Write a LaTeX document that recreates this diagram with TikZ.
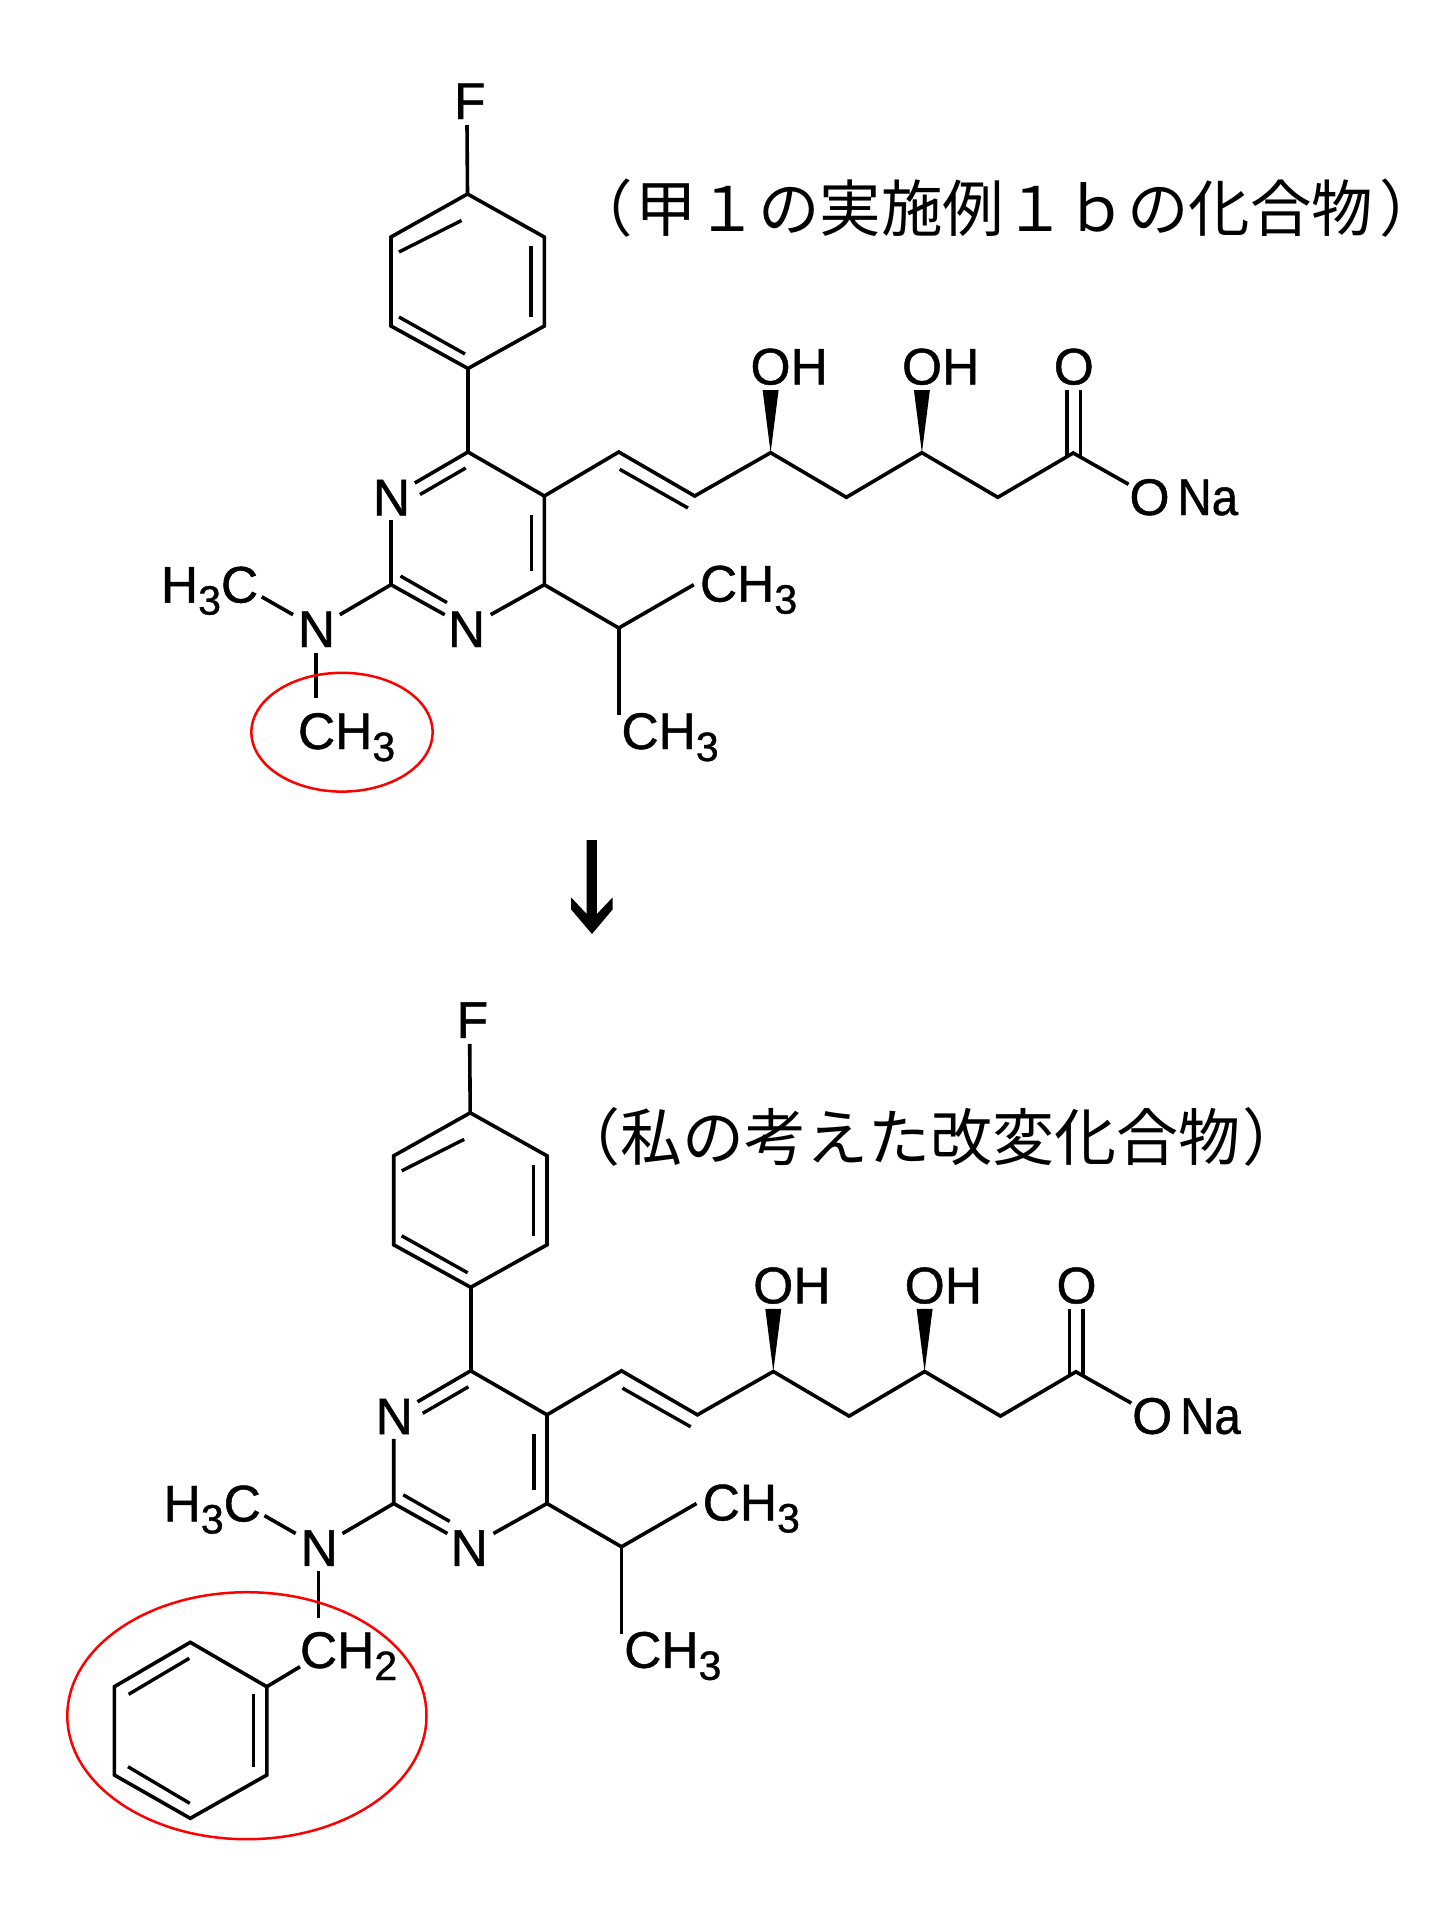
\documentclass[tikz,border=0pt]{standalone}
\usepackage{fontspec}
\setmainfont[FakeBold=0.9]{Liberation Sans}
\newfontfamily\jpfont{Noto Sans CJK JP}
\newcommand{\subnum}[1]{\raisebox{-12pt}{\fontsize{41}{41}\selectfont #1}}
\tikzset{
  bond/.style={draw=black,line width=3.6pt,line cap=butt,line join=miter},
  thinbond/.style={draw=black,line width=3.4pt,line cap=butt},
  lab/.style={anchor=base west,inner sep=0pt,outer sep=0pt,text=black,font=\fontsize{51.5}{60}\selectfont},
  title/.style={anchor=base,inner sep=0pt,text=black,font=\jpfont\fontsize{61.5}{70}\selectfont},
  redring/.style={draw=red,line width=2.5pt},
}
% #1 = prefix of the names
\newcommand{\drugcore}[1]{
  % fluorophenyl
  \coordinate (#1pa) at (467.5,194);
  \coordinate (#1pb) at (391,237);
  \coordinate (#1pc) at (391,326);
  \coordinate (#1pd) at (468,368.5);
  \coordinate (#1pe) at (544.3,326);
  \coordinate (#1pf) at (544.3,237);
  \coordinate (#1Fe) at (467,125);
  \node[lab] (#1F) at (454,119) {F};
  \draw[bond] (#1pa)--(#1pb)--(#1pc)--(#1pd)--(#1pe)--(#1pf)--cycle;
  \draw[bond] (#1Fe)--(#1pa);
  \coordinate (#1i1a) at (399,252);\coordinate (#1i1b) at (461.5,220.5);
  \coordinate (#1i2a) at (399,317);\coordinate (#1i2b) at (465,354);
  \coordinate (#1i3a) at (531,246);\coordinate (#1i3b) at (531,317);
  \draw[thinbond] (#1i1a)--(#1i1b);
  \draw[thinbond] (#1i2a)--(#1i2b);
  \draw[thinbond] (#1i3a)--(#1i3b);
  % pyrimidine
  \coordinate (#1r4) at (468,452);
  \coordinate (#1r5) at (544.3,496);
  \coordinate (#1r6) at (544.3,584.7);
  \coordinate (#1r2) at (391,584.7);
  \coordinate (#1n3u) at (414.8,483);
  \coordinate (#1n3v) at (420,494.5);
  \coordinate (#1i4) at (465.7,468);
  \coordinate (#1n3d) at (391,520);
  \coordinate (#1n1l) at (444.7,614.7);
  \coordinate (#1n1k) at (447,602.6);
  \coordinate (#1i2) at (400.5,576);
  \coordinate (#1n1r) at (490.7,614.7);
  \coordinate (#1i5a) at (531.3,515);
  \coordinate (#1i5b) at (531.3,571);
  \node[lab] (#1N3) at (373,515.4) {N};
  \node[lab] (#1N1) at (448,647) {N};
  \draw[bond] (#1pd)--(#1r4);
  \draw[bond] (#1n3u)--(#1r4)--(#1r5)--(#1r6)--(#1n1r);
  \draw[thinbond] (#1n3v)--(#1i4);
  \draw[bond] (#1n3d)--(#1r2)--(#1n1l);
  \draw[thinbond] (#1i2)--(#1n1k);
  \draw[thinbond] (#1i5a)--(#1i5b);
  % amine
  \node[lab] (#1Nm) at (298,647) {N};
  \node[lab] (#1Me) at (161,602.6) {H\subnum{3}C};
  \coordinate (#1am) at (339.8,614.7);
  \coordinate (#1mea) at (261.7,596.8);
  \coordinate (#1meb) at (293,614.7);
  \coordinate (#1dn) at (315.7,652.5);
  \draw[bond] (#1am)--(#1r2);
  \draw[bond] (#1mea)--(#1meb);
  % isopropyl
  \coordinate (#1ip) at (618.8,628);
  \coordinate (#1ipa) at (693.8,584.7);
  \coordinate (#1ipb) at (618.8,715);
  \node[lab] (#1ipA) at (700,601.6) {CH\subnum{3}};
  \node[lab] (#1ipB) at (621.5,749) {CH\subnum{3}};
  \draw[bond] (#1r6)--(#1ip)--(#1ipa);
  \draw[bond] (#1ip)--(#1ipb);
  % side chain
  \coordinate (#1s1) at (618.8,452);
  \coordinate (#1s2) at (694.7,496);
  \coordinate (#1s3) at (770.6,452.7);
  \coordinate (#1s4) at (846.4,497.3);
  \coordinate (#1s5) at (921.9,452.7);
  \coordinate (#1s6) at (997.8,497.3);
  \coordinate (#1s7) at (1073.2,453);
  \coordinate (#1so) at (1128.6,484.3);
  \coordinate (#1i6a) at (619.7,469.3);
  \coordinate (#1i6b) at (688,508);
  \draw[bond] (#1r5)--(#1s1)--(#1s2)--(#1s3)--(#1s4)--(#1s5)--(#1s6)--(#1s7)--(#1so);
  \draw[thinbond] (#1i6a)--(#1i6b);
  \node[lab] (#1OHa) at (750.5,384.5) {OH};
  \node[lab] (#1OHb) at (902,384.5) {OH};
  \node[lab] (#1Ot) at (1053.8,384.5) {O};
  \node[lab] (#1Ob) at (1129.5,515) {O};
  \node[lab] (#1Na) at (1177.5,515) {\scalebox{.92}[1]{Na}};
  \coordinate (#1wal) at (762.6,390);\coordinate (#1war) at (778.6,390);
  \coordinate (#1wbl) at (913.9,390);\coordinate (#1wbr) at (929.9,390);
  \fill[black] (#1s3)--(#1wal)--(#1war)--cycle;
  \fill[black] (#1s5)--(#1wbl)--(#1wbr)--cycle;
  \coordinate (#1oat) at (1067,390);\coordinate (#1oab) at (1067,456);
  \coordinate (#1obt) at (1080.4,390);\coordinate (#1obb) at (1080.4,456);
  \draw[thinbond] (#1oat)--(#1oab);
  \draw[thinbond] (#1obt)--(#1obb);
}
\begin{document}
\begin{tikzpicture}[x=1pt,y=-1pt]
\fill[white] (0,0) rectangle (1452,1920);
\useasboundingbox (0,0) rectangle (1452,1920);
% upper compound
\drugcore{u}
\coordinate (ud) at (315.7,698);
\draw[bond] (udn)--(ud);
\node[lab] (uCH) at (298,749) {CH\subnum{3}};
\draw[redring] (342,732.2) ellipse [x radius=90.6,y radius=59.4];
\node[title] (utitle) at (1006,231) {（\kern3pt甲１の実施例１ｂの化合物\kern6pt）};
% arrow
\fill[black] (586.7,840)--(586.7,914)--(571,897.3)--(571,909.3)--(592,934)--(612.7,909.3)--(612.7,897.3)--(596.9,914)--(596.9,840)--cycle;
% lower compound
\begin{scope}[shift={(2.7,918.8)}]
\drugcore{l}
\end{scope}
\coordinate (ld) at (318.4,1618.3);
\draw[bond] (ldn)--(ld);
\node[lab] (lCH) at (300,1668) {CH\subnum{2}};
\coordinate (ba) at (190.3,1642.3);
\coordinate (bb) at (114.3,1686.7);
\coordinate (bc) at (114.3,1775);
\coordinate (bd) at (190.3,1818.3);
\coordinate (be) at (266.8,1775);
\coordinate (bf) at (266.8,1686.7);
\coordinate (bch) at (300,1666.7);
\draw[bond] (ba)--(bb)--(bc)--(bd)--(be)--(bf)--cycle;
\draw[bond] (bf)--(bch);
\coordinate (bi1a) at (253.6,1694);\coordinate (bi1b) at (253.6,1766.7);
\coordinate (bi2a) at (189.3,1658.3);\coordinate (bi2b) at (128.6,1694.3);
\coordinate (bi3a) at (128,1766.7);\coordinate (bi3b) at (189.8,1803.3);
\draw[thinbond] (bi1a)--(bi1b);
\draw[thinbond] (bi2a)--(bi2b);
\draw[thinbond] (bi3a)--(bi3b);
\draw[redring] (246.9,1715.7) ellipse [x radius=179.6,y radius=123.5];
\node[title,font=\jpfont\fontsize{62}{70}\selectfont] (ltitle) at (931.5,1160) {（\kern1pt私の考えた改変化合物\kern2pt）};
\end{tikzpicture}
\end{document}
